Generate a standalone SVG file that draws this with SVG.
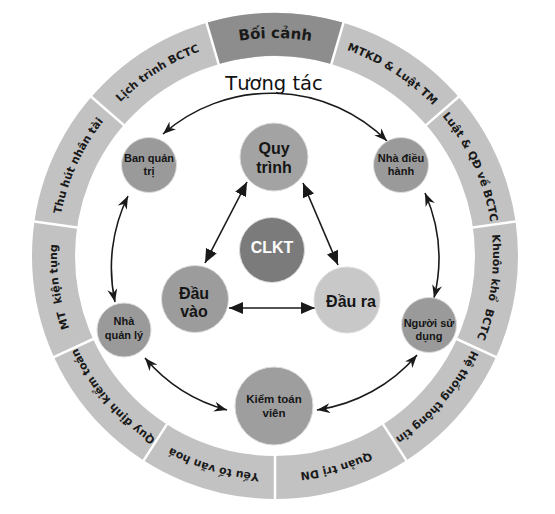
<svg xmlns="http://www.w3.org/2000/svg" xmlns:xlink="http://www.w3.org/1999/xlink" width="555" height="514" viewBox="0 0 555 514">
<style>
.ring{font-family:"DejaVu Sans","Liberation Sans",sans-serif;font-size:11px;font-weight:bold;fill:#1a1a1a;}
.node{stroke:#dcdcdc;stroke-width:1;}
.t{font-family:"Liberation Sans",Arial,sans-serif;font-weight:bold;fill:#151515;text-anchor:middle;}
.s{font-size:11px;}
.b{font-size:16px;}
.conn{fill:none;stroke:#1a1a1a;stroke-width:1.6;}
</style>
<defs>
<marker id="stealth" viewBox="0 0 13 10" markerUnits="userSpaceOnUse" markerWidth="13" markerHeight="10" refX="13" refY="5" orient="auto-start-reverse">
<path d="M0,0 L13,5 L0,10 L4,5 Z" fill="#1a1a1a"/>
</marker>
<marker id="tri" viewBox="0 0 14 12" markerUnits="userSpaceOnUse" markerWidth="14" markerHeight="12" refX="14" refY="6" orient="auto-start-reverse">
<path d="M0,0 L14,6 L0,12 Z" fill="#1a1a1a"/>
</marker>
<path id="ringPath" d="M 275 474 A 218 218 0 1 1 275 38 A 218 218 0 1 1 275 474"/>
</defs>
<rect width="555" height="514" fill="#ffffff"/>

<g id="context-ring">
<circle cx="275" cy="256" r="221.5" fill="none" stroke="#c2c2c2" stroke-width="43"/>
<path d="M206.55,22.84 A243,243 0 0 1 343.45,22.84 L331.34,64.1 A200,200 0 0 0 218.66,64.1 Z" fill="#8d8d8d"/>
<g stroke="#ffffff" stroke-width="2.5">
<line x1="219.22" y1="66.02" x2="205.98" y2="20.92"/>
<line x1="330.78" y1="66.02" x2="344.02" y2="20.92"/>
<line x1="424.63" y1="126.33" x2="460.15" y2="95.55"/>
<line x1="470.98" y1="227.82" x2="517.5" y2="221.14"/>
<line x1="455.1" y1="338.25" x2="497.85" y2="357.77"/>
<line x1="382.04" y1="422.58" x2="407.45" y2="462.12"/>
<line x1="275" y1="454" x2="275" y2="501"/>
<line x1="167.96" y1="422.58" x2="142.55" y2="462.12"/>
<line x1="94.9" y1="338.25" x2="52.15" y2="357.77"/>
<line x1="79.02" y1="227.82" x2="32.5" y2="221.14"/>
<line x1="125.37" y1="126.33" x2="89.85" y2="95.55"/>
</g>
<text class="ring" text-anchor="middle" style="font-size:15px"><textPath xlink:href="#ringPath" href="#ringPath" startOffset="684.85">Bối cảnh</textPath></text>
<text class="ring" text-anchor="middle"><textPath xlink:href="#ringPath" href="#ringPath" startOffset="809.4">MTKD &amp; Luật TM</textPath></text>
<text class="ring" text-anchor="middle"><textPath xlink:href="#ringPath" href="#ringPath" startOffset="933.9">Luật &amp; QĐ về BCTC</textPath></text>
<text class="ring" text-anchor="middle" style="white-space:pre"><textPath xlink:href="#ringPath" href="#ringPath" startOffset="1058.4">Khuôn khổ  BCTC</textPath></text>
<text class="ring" text-anchor="middle"><textPath xlink:href="#ringPath" href="#ringPath" startOffset="1182.9">Hệ thống thông tin</textPath></text>
<text class="ring" text-anchor="middle"><textPath xlink:href="#ringPath" href="#ringPath" startOffset="1307.4">Quản trị DN</textPath></text>
<text class="ring" text-anchor="middle"><textPath xlink:href="#ringPath" href="#ringPath" startOffset="62.26">Yếu tố văn hoá</textPath></text>
<text class="ring" text-anchor="middle"><textPath xlink:href="#ringPath" href="#ringPath" startOffset="186.78">Quy định kiểm toán</textPath></text>
<text class="ring" text-anchor="middle" style="white-space:pre"><textPath xlink:href="#ringPath" href="#ringPath" startOffset="311.3">MT  kiện tụng</textPath></text>
<text class="ring" text-anchor="middle"><textPath xlink:href="#ringPath" href="#ringPath" startOffset="435.8">Thu hút nhân tài</textPath></text>
<text class="ring" text-anchor="middle"><textPath xlink:href="#ringPath" href="#ringPath" startOffset="560.3">Lịch trình BCTC</textPath></text>
</g>

<text id="label-tuong-tac" x="274" y="90" font-family="DejaVu Sans, Liberation Sans, sans-serif" font-size="19.5" fill="#111111" text-anchor="middle">Tương tác</text>

<g id="connectors">
<path class="conn" d="M163,134 A164,164 0 0 1 387,141" marker-start="url(#stealth)" marker-end="url(#stealth)"/>
<path class="conn" d="M128,196 A163,163 0 0 0 115,302" marker-start="url(#stealth)" marker-end="url(#stealth)"/>
<path class="conn" d="M425,193 A163,163 0 0 1 434,298" marker-start="url(#stealth)" marker-end="url(#stealth)"/>
<path class="conn" d="M145,358 A163,163 0 0 0 227,410" marker-start="url(#stealth)" marker-end="url(#stealth)"/>
<path class="conn" d="M417,355 A163,163 0 0 1 317,410" marker-start="url(#stealth)" marker-end="url(#stealth)"/>
<path class="conn" d="M247,182 L205,263" marker-start="url(#tri)" marker-end="url(#tri)"/>
<path class="conn" d="M303,183 L338,265" marker-start="url(#tri)" marker-end="url(#tri)"/>
<path class="conn" d="M229,308 L315,308" marker-start="url(#tri)" marker-end="url(#tri)"/>
</g>

<g id="node-ban-quan-tri">
<circle class="node" cx="149" cy="165" r="27.5" fill="#9a9a9a"/>
<text class="t s" x="149" y="162">Ban quản</text>
<text class="t s" x="149" y="175">trị</text>
</g>
<g id="node-nha-dieu-hanh">
<circle class="node" cx="401" cy="165" r="27.5" fill="#9a9a9a"/>
<text class="t s" x="401" y="162">Nhà điều</text>
<text class="t s" x="401" y="175">hành</text>
</g>
<g id="node-quy-trinh">
<circle class="node" cx="274" cy="157" r="34" fill="#a3a3a3"/>
<text class="t b" x="274" y="154">Quy</text>
<text class="t b" x="274" y="173">trình</text>
</g>
<g id="node-clkt">
<circle class="node" cx="272" cy="250" r="32.5" fill="#7b7b7b"/>
<text class="t b" x="272" y="253" style="fill:#ffffff">CLKT</text>
</g>
<g id="node-dau-vao">
<circle class="node" cx="195" cy="299" r="33.5" fill="#9c9c9c"/>
<text class="t b" x="194" y="299">Đầu</text>
<text class="t b" x="194" y="317">vào</text>
</g>
<g id="node-dau-ra">
<circle class="node" cx="347" cy="300" r="33" fill="#c8c8c8"/>
<text class="t b" x="351" y="307">Đầu ra</text>
</g>
<g id="node-nha-quan-ly">
<circle class="node" cx="124" cy="330" r="27" fill="#9a9a9a"/>
<text class="t s" x="124" y="325">Nhà</text>
<text class="t s" x="124" y="339">quản lý</text>
</g>
<g id="node-nguoi-su-dung">
<circle class="node" cx="429" cy="325" r="27.5" fill="#9a9a9a"/>
<text class="t s" x="429" y="327">Người sử</text>
<text class="t s" x="429" y="340">dụng</text>
</g>
<g id="node-kiem-toan-vien">
<circle class="node" cx="274" cy="406" r="39" fill="#9e9e9e"/>
<text class="t" x="274" y="403" font-size="11.5">Kiểm toán</text>
<text class="t" x="274" y="417" font-size="11.5">viên</text>
</g>
</svg>
